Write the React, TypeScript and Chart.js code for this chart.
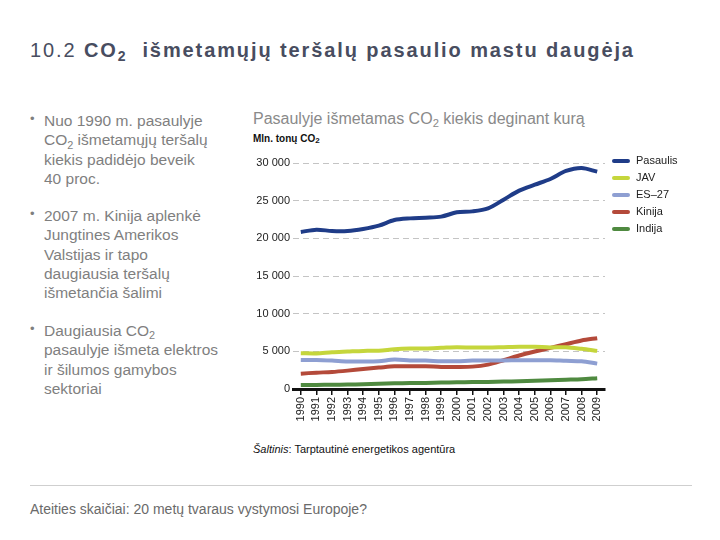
import React, { useEffect, useRef } from "react";
import { Chart, registerables } from "chart.js";

Chart.register(...registerables);

const years = [
  "1990", "1991", "1992", "1993", "1994", "1995", "1996", "1997", "1998", "1999",
  "2000", "2001", "2002", "2003", "2004", "2005", "2006", "2007", "2008", "2009",
];

const pasaulis = [
  20840, 21150, 20970, 20970, 21240, 21680, 22430, 22650, 22740, 22880,
  23450, 23580, 23980, 25130, 26330, 27120, 27880, 28940, 29340, 28850,
];
const jav = [
  4750, 4720, 4880, 4970, 5060, 5080, 5280, 5370, 5380, 5460,
  5550, 5500, 5500, 5550, 5600, 5600, 5520, 5550, 5330, 5060,
];
const es27 = [
  3860, 3850, 3770, 3660, 3640, 3680, 3900, 3780, 3770, 3680,
  3680, 3770, 3770, 3780, 3820, 3820, 3820, 3740, 3680, 3370,
];
const kinija = [
  2040, 2170, 2260, 2440, 2660, 2840, 3020, 3020, 3020, 2930,
  2930, 2970, 3240, 3820, 4440, 4970, 5460, 5950, 6440, 6750,
];
const indija = [
  520, 540, 560, 590, 630, 700, 750, 780, 800, 850,
  890, 920, 940, 980, 1030, 1080, 1150, 1230, 1310, 1440,
];

const seriesNames = ["Pasaulis", "JAV", "ES–27", "Kinija", "Indija"];
const seriesColors = ["#1f3c88", "#c5d63c", "#8e9fd2", "#b44a3a", "#4f8a40"];
const yTicks = [0, 5000, 10000, 15000, 20000, 25000, 30000];

const FONT = "'Liberation Sans', Arial, sans-serif";

const formatThousands = (v: number) =>
  String(v).replace(/\B(?=(\d{3})+(?!\d))/g, " ");

function LineChart() {
  const ref = useRef<HTMLCanvasElement | null>(null);

  useEffect(() => {
    if (!ref.current) return;
    const values = [pasaulis, jav, es27, kinija, indija];
    const chart = new Chart(ref.current, {
      type: "line",
      data: {
        labels: years,
        datasets: values.map((d, i) => ({
          label: seriesNames[i],
          data: d,
          borderColor: seriesColors[i],
          backgroundColor: seriesColors[i],
          borderWidth: 4,
          pointRadius: 0,
          tension: 0.3,
          fill: false,
        })),
      },
      options: {
        animation: false,
        responsive: false,
        maintainAspectRatio: false,
        layout: { padding: { top: 13, right: 25, left: 0, bottom: 0 } },
        plugins: {
          legend: { display: false },
          tooltip: { enabled: false },
        },
        scales: {
          x: {
            offset: true,
            grid: {
              drawOnChartArea: false,
              drawTicks: true,
              tickLength: 6,
              color: "#111",
              lineWidth: 1.5,
            },
            border: { display: true, color: "#111", width: 3 },
            ticks: {
              minRotation: 90,
              maxRotation: 90,
              autoSkip: false,
              padding: 2,
              color: "#222",
              font: { family: FONT, size: 11 },
            },
            afterFit: (scale: any) => {
              scale.height = 51;
            },
          },
          y: {
            min: 0,
            max: 30000,
            afterBuildTicks: (scale: any) => {
              scale.ticks = yTicks.map((v) => ({ value: v }));
            },
            grid: {
              drawTicks: false,
              color: (ctx: any) => (ctx.tick && ctx.tick.value === 0 ? "rgba(0,0,0,0)" : "#c4c4c4"),
              lineWidth: 1,
            },
            border: { display: false, dash: [6, 4] },
            ticks: {
              padding: 3,
              color: "#222",
              font: { family: FONT, size: 11 },
              callback: (v: any) => formatThousands(Number(v)),
            },
            afterFit: (scale: any) => {
              scale.width = 43;
            },
          },
        },
      },
    });
    return () => chart.destroy();
  }, []);

  return (
    <canvas
      ref={ref}
      width={380}
      height={290}
      style={{ position: "absolute", left: 250, top: 150, width: 380, height: 290 }}
    />
  );
}

// subscript that does not disturb the line box
const sub: React.CSSProperties = {
  fontSize: "0.7em",
  position: "relative",
  top: "0.3em",
  lineHeight: 0,
};

export default function App() {
  const bulletLine: React.CSSProperties = {
    position: "absolute",
    left: 44,
    fontSize: 15.5,
    lineHeight: "19.3px",
    color: "#7f7f7f",
    whiteSpace: "nowrap",
  };
  const dot: React.CSSProperties = {
    position: "absolute",
    left: 30,
    fontSize: 13,
    color: "#7f7f7f",
  };

  return (
    <div
      style={{
        position: "absolute",
        left: 0,
        top: 0,
        width: 720,
        height: 540,
        background: "#fff",
        fontFamily: FONT,
        overflow: "hidden",
      }}
    >
      <div
        style={{
          position: "absolute",
          left: 30,
          top: 39,
          fontSize: 20,
          letterSpacing: "1.9px",
          color: "#484d60",
          whiteSpace: "nowrap",
        }}
      >
        10.2{" "}
        <b>
          CO<span style={sub}>2</span>&nbsp; išmetamųjų teršalų pasaulio mastu daugėja
        </b>
      </div>

      <div style={{ ...dot, top: 111 }}>•</div>
      <div style={{ ...bulletLine, top: 111 }}>
        Nuo 1990 m. pasaulyje
        <br />
        CO<span style={sub}>2</span> išmetamųjų teršalų
        <br />
        kiekis padidėjo beveik
        <br />
        40 proc.
      </div>

      <div style={{ ...dot, top: 206 }}>•</div>
      <div style={{ ...bulletLine, top: 206 }}>
        2007 m. Kinija aplenkė
        <br />
        Jungtines Amerikos
        <br />
        Valstijas ir tapo
        <br />
        daugiausia teršalų
        <br />
        išmetančia šalimi
      </div>

      <div style={{ ...dot, top: 321 }}>•</div>
      <div style={{ ...bulletLine, top: 321 }}>
        Daugiausia CO<span style={sub}>2</span>
        <br />
        pasaulyje išmeta elektros
        <br />
        ir šilumos gamybos
        <br />
        sektoriai
      </div>

      <div
        style={{
          position: "absolute",
          left: 253,
          top: 110,
          fontSize: 16,
          color: "#8a8a8a",
          whiteSpace: "nowrap",
        }}
      >
        Pasaulyje išmetamas CO<span style={sub}>2</span> kiekis deginant kurą
      </div>
      <div
        style={{
          position: "absolute",
          left: 253,
          top: 133,
          fontSize: 10,
          fontWeight: "bold",
          color: "#111",
          whiteSpace: "nowrap",
        }}
      >
        Mln. tonų CO<span style={{ ...sub, fontSize: 8, top: "0.15em" }}>2</span>
      </div>

      <LineChart />

      {seriesNames.map((name, i) => (
        <div key={name}>
          <div
            style={{
              position: "absolute",
              left: 612,
              top: 159 + i * 17,
              width: 18,
              height: 4,
              borderRadius: 2,
              background: seriesColors[i],
            }}
          />
          <div
            style={{
              position: "absolute",
              left: 636,
              top: 154 + i * 17,
              fontSize: 11,
              color: "#222",
              whiteSpace: "nowrap",
            }}
          >
            {name}
          </div>
        </div>
      ))}

      <div
        style={{
          position: "absolute",
          left: 253,
          top: 443,
          fontSize: 11,
          color: "#111",
          whiteSpace: "nowrap",
        }}
      >
        <i>Šaltinis</i>: Tarptautinė energetikos agentūra
      </div>

      <div
        style={{
          position: "absolute",
          left: 30,
          top: 485,
          width: 662,
          height: 1,
          background: "#cfcfcf",
        }}
      />

      <div
        style={{
          position: "absolute",
          left: 30,
          top: 501,
          fontSize: 14,
          color: "#6a6a6a",
          whiteSpace: "nowrap",
        }}
      >
        Ateities skaičiai: 20 metų tvaraus vystymosi Europoje?
      </div>
    </div>
  );
}
